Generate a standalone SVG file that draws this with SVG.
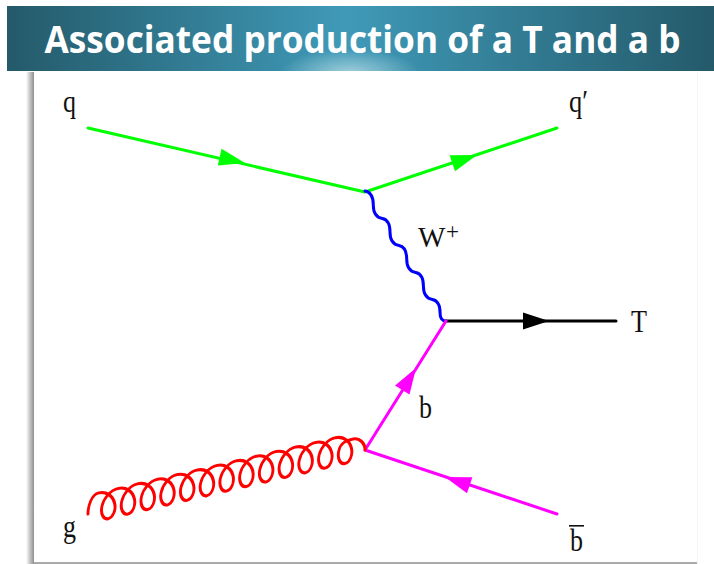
<svg xmlns="http://www.w3.org/2000/svg" width="714" height="564" viewBox="0 0 714 564">
<style>
.l{fill:none;stroke-width:3;stroke-linecap:round;stroke-linejoin:round}
.g{stroke:#00ff00}.m{stroke:#ff00ff}.k{stroke:#000}.b{stroke:#0000ff}.r{stroke:#ff0000}
.t{font-family:"Liberation Serif",serif;font-size:31px;fill:#111}
.title{font-family:"Open Sans","Noto Sans",sans-serif;font-weight:700;font-size:37px;fill:#fff}
</style>
<defs>
<linearGradient id="hdr" x1="0" x2="1" y1="0" y2="0">
<stop offset="0" stop-color="#245a6a"/><stop offset=".48" stop-color="#3f9ab8"/><stop offset="1" stop-color="#245a6a"/>
</linearGradient>
<radialGradient id="glow" gradientUnits="userSpaceOnUse" cx="0" cy="0" r="1" gradientTransform="translate(350 73) scale(70 24)">
<stop offset="0" stop-color="#b8dbe4" stop-opacity=".8"/><stop offset="1" stop-color="#b8dbe4" stop-opacity="0"/>
</radialGradient>
<linearGradient id="shadow" x1="0" x2="1" y1="0" y2="0">
<stop offset="0" stop-color="#fff"/><stop offset=".5" stop-color="#c4c4c4"/><stop offset="1" stop-color="#8f8f8f"/>
</linearGradient>
<polygon id="head" points="0,0 -26,-8.5 -26,8.5"/>
</defs>
<rect width="714" height="564" fill="#fff"/>
<g id="header">
<rect x="7" y="6" width="707" height="65" fill="url(#hdr)"/>
<rect x="7" y="6" width="707" height="65" fill="url(#glow)"/>
<text class="title" x="362.500" y="53" text-anchor="middle" textLength="636" lengthAdjust="spacingAndGlyphs">Associated production of a T and a b</text>
</g>
<g id="frame">
<rect x="26" y="72" width="8" height="492" fill="url(#shadow)"/>
<rect x="34" y="562" width="663" height="2" fill="#aaa"/>
<rect x="697" y="72" width="1" height="492" fill="#f7f7f7"/>
</g>
<g id="connectors">
<path class="l g" d="M88,128L365,192L557,128"/>
<use href="#head" fill="#00ff00" transform="translate(245,163) rotate(13)"/>
<use href="#head" fill="#00ff00" transform="translate(477,155) rotate(-18.400)"/>
<path class="l b" d="M365,191C371,192 373.300,198 373.300,205c0,8 3,12.500 9,13.500c5,1 7.700,5 7.700,13.500c0,8 3,12.500 9,13.500c5,1 7.700,5 7.700,13.500c0,8 3,12.500 9,13.500c5,1 7.700,5 7.700,13.500c0,8 3,12.500 9,13.500c5,1 7.700,5 7.700,13.500C440,318 442,321 446,321"/>
<path class="l k" d="M446,321H616"/>
<use href="#head" fill="#000" transform="translate(549,321)"/>
<path class="l m" d="M446,321L365,450L557,514"/>
<use href="#head" fill="#ff00ff" transform="translate(416,368) rotate(-58.200)"/>
<use href="#head" fill="#ff00ff" transform="translate(445,477) rotate(198.400)"/>
<path class="l r" transform="matrix(.974 -.227 0 1 98.400 493)" d="M-10.700,18.600c0,-8 3.700,-18.600 10.700,-18.600c8.100,0 14.900,6.300 16.630,14c1.750,7.500 -1.900,14 -6.500,14c-4.600,0 -8.250,-6.300 -6.500,-14c1.750,-7.500 8.400,-14 16.630,-14c8.100,0 14.900,6.300 16.630,14c1.750,7.500 -1.900,14 -6.500,14c-4.600,0 -8.250,-6.300 -6.500,-14c1.750,-7.500 8.400,-14 16.630,-14c8.100,0 14.900,6.300 16.630,14c1.750,7.500 -1.900,14 -6.500,14c-4.600,0 -8.250,-6.300 -6.500,-14c1.750,-7.500 8.400,-14 16.630,-14c8.100,0 14.900,6.300 16.630,14c1.750,7.500 -1.900,14 -6.500,14c-4.600,0 -8.250,-6.300 -6.500,-14c1.750,-7.500 8.400,-14 16.630,-14c8.100,0 14.900,6.300 16.630,14c1.750,7.500 -1.900,14 -6.500,14c-4.600,0 -8.250,-6.300 -6.500,-14c1.750,-7.500 8.400,-14 16.630,-14c8.100,0 14.900,6.300 16.630,14c1.750,7.500 -1.900,14 -6.500,14c-4.600,0 -8.250,-6.300 -6.500,-14c1.750,-7.500 8.400,-14 16.630,-14c8.100,0 14.900,6.300 16.630,14c1.750,7.500 -1.900,14 -6.500,14c-4.600,0 -8.250,-6.300 -6.500,-14c1.750,-7.500 8.400,-14 16.630,-14c8.100,0 14.900,6.300 16.630,14c1.750,7.500 -1.900,14 -6.500,14c-4.600,0 -8.250,-6.300 -6.500,-14c1.750,-7.500 8.400,-14 16.630,-14c8.100,0 14.900,6.300 16.630,14c1.750,7.500 -1.900,14 -6.500,14c-4.600,0 -8.250,-6.300 -6.500,-14c1.750,-7.500 8.400,-14 16.630,-14c8.100,0 14.900,6.300 16.630,14c1.750,7.500 -1.900,14 -6.500,14c-4.600,0 -8.250,-6.300 -6.500,-14c1.750,-7.500 8.400,-14 16.630,-14c8.100,0 14.900,6.300 16.630,14c1.750,7.500 -1.900,14 -6.500,14c-4.600,0 -8.250,-6.300 -6.500,-14c1.750,-7.500 8.400,-14 16.630,-14c8.100,0 14.900,6.300 16.630,14c1.750,7.500 -1.900,14 -6.500,14c-4.600,0 -8.250,-6.300 -6.500,-14c1.750,-7.500 8.400,-14 16.630,-14c8.100,0 14.900,6.300 16.630,14c1.750,7.500 -1.900,14 -6.500,14c-4.600,0 -8.250,-6.300 -6.500,-14c1.750,-7.500 7,-8.700 14.800,-8.700c6,0 12.300,6.500 12.300,13.800"/>
</g>
<g id="labels">
<text id="q" class="t" x="63" y="112" textLength="13" lengthAdjust="spacingAndGlyphs">q</text>
<text id="qp" class="t" x="569" y="112" textLength="19" lengthAdjust="spacingAndGlyphs">q′</text>
<text id="w" class="t" style="font-size:29px" x="418" y="247">W<tspan font-size="23" x="446" dy="-8">+</tspan></text>
<text id="T" class="t" x="631" y="331.500" textLength="16" lengthAdjust="spacingAndGlyphs">T</text>
<text id="bl" class="t" x="419" y="418" textLength="13" lengthAdjust="spacingAndGlyphs">b</text>
<text id="g" class="t" x="63" y="537" textLength="13" lengthAdjust="spacingAndGlyphs">g</text>
<g id="bbar"><rect x="569" y="525" width="15" height="1.600" fill="#111"/><text class="t" x="570" y="551" textLength="13" lengthAdjust="spacingAndGlyphs">b</text></g>
</g>
</svg>
